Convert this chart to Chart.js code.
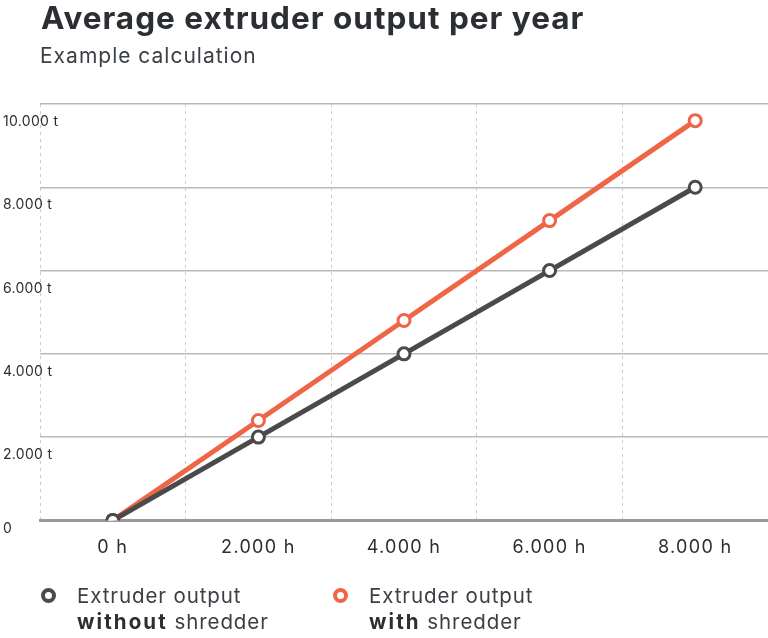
<!DOCTYPE html>
<html>
<head>
<meta charset="utf-8">
<script src="https://cdn.jsdelivr.net/npm/chart.js@4"></script>
<style>
    body { margin: 0; background: #fff; font-family: Inter, "Noto Sans", sans-serif; color: #2b2f33; }
    #wrap { position: relative; width: 768px; height: 638px; overflow: hidden; }
    #chart-canvas { position: absolute; left: 0; top: 0; }
    .title { position: absolute; left: 41px; top: -2.5px; font-size: 31.5px; font-weight: 700; letter-spacing: 1px; white-space: nowrap; }
    .subtitle { position: absolute; left: 40px; top: 43px; font-size: 21px; font-weight: 400; letter-spacing: 1px; color: #3a3f44; }
    .legend-item { position: absolute; top: 583px; font-size: 20.5px; line-height: 25.5px; letter-spacing: 0.9px; color: #3a3f44; white-space: nowrap; }
    .legend-item b { color: #2b2f33; letter-spacing: 2.1px; }
    .legend-dot { position: absolute; left: -36px; top: 5px; width: 7px; height: 7px; border-radius: 50%; border: 4px solid; }
</style>
</head>
<body>
<div id="wrap">
    <canvas id="chart-canvas" width="768" height="638"></canvas>
    <div class="title">Average extruder output per year</div>
    <div class="subtitle">Example calculation</div>
    <div class="legend-item" style="left: 77px;">
        <span class="legend-dot" style="border-color: #4a4a4a;"></span>
        Extruder output<br><b>without</b> shredder
    </div>
    <div class="legend-item" style="left: 369px;">
        <span class="legend-dot" style="border-color: #ef6548;"></span>
        Extruder output<br><b>with</b> shredder
    </div>
</div>
<script>
// Chart data
const hourLabels = ['0 h', '2.000 h', '4.000 h', '6.000 h', '8.000 h'];
const withoutShredder = [0, 2000, 4000, 6000, 8000];
const withShredder = [0, 2400, 4800, 7200, 9600];
const yTickValues = [0, 2000, 4000, 6000, 8000, 10000];
const yTickLabels = ['0', '2.000 t', '4.000 t', '6.000 t', '8.000 t', '10.000 t'];

const grayColor = '#4a4a4a';
const orangeColor = '#ef6548';

// Wider letters for the canvas text, like the reference
const spacingPlugin = {
    id: 'letterSpacing',
    beforeDraw(chart) {
        chart.ctx.letterSpacing = '1.3px';
    }
};

// Draw y labels just under each gridline, left of the plot
const yLabelPlugin = {
    id: 'yLabels',
    afterDraw(chart) {
        const ctx = chart.ctx;
        const yScale = chart.scales.y;
        ctx.save();
        ctx.letterSpacing = '0.3px';
        ctx.font = '14px Inter, "Noto Sans", sans-serif';
        ctx.fillStyle = '#2b2f33';
        ctx.textAlign = 'left';
        ctx.textBaseline = 'middle';
        yTickValues.forEach((v, i) => {
            const y = yScale.getPixelForValue(v) + (v === 0 ? 8 : 18);
            ctx.fillText(yTickLabels[i], 3, y);
        });
        ctx.restore();
    }
};

function initializeChart() {
    const ctx = document.getElementById('chart-canvas').getContext('2d');
    new Chart(ctx, {
        type: 'line',
        data: {
            labels: hourLabels,
            datasets: [{
                label: 'Extruder output without shredder',
                data: withoutShredder,
                borderColor: grayColor,
                backgroundColor: '#fff',
                borderWidth: 5,
                pointRadius: 6,
                pointBorderWidth: 3,
                pointBackgroundColor: '#fff',
                pointBorderColor: grayColor,
                tension: 0
            }, {
                label: 'Extruder output with shredder',
                data: withShredder,
                borderColor: orangeColor,
                backgroundColor: '#fff',
                borderWidth: 5,
                pointRadius: 6,
                pointBorderWidth: 3,
                pointBackgroundColor: '#fff',
                pointBorderColor: orangeColor,
                tension: 0
            }]
        },
        options: {
            responsive: false,
            animation: false,
            layout: {
                autoPadding: false,
                padding: { left: 40, right: 0, top: 104, bottom: 64 }
            },
            plugins: {
                legend: { display: false },
                tooltip: { enabled: false }
            },
            scales: {
                x: {
                    offset: true,
                    afterFit(scale) {
                        // no extra room for the outer labels
                        scale.paddingLeft = 0;
                        scale.paddingRight = 0;
                    },
                    grid: {
                        offset: true,
                        color: '#cccccc',
                        lineWidth: 1,
                        drawTicks: false
                    },
                    border: { display: true, color: '#9a9a9a', width: 3, dash: [3, 4] },
                    ticks: {
                        padding: 16,
                        color: '#2b2f33',
                        font: { family: 'Inter, "Noto Sans", sans-serif', size: 18 }
                    }
                },
                y: {
                    min: 0,
                    max: 10000,
                    afterBuildTicks(scale) {
                        scale.ticks = yTickValues.map(v => ({ value: v }));
                    },
                    afterFit(scale) {
                        scale.width = 0;
                    },
                    grid: {
                        color: '#b9b9b9',
                        lineWidth: 1.5,
                        drawTicks: false
                    },
                    border: { display: false },
                    ticks: { display: false }
                }
            }
        },
        plugins: [spacingPlugin, yLabelPlugin]
    });
}

document.addEventListener('DOMContentLoaded', initializeChart);
</script>
</body>
</html>
